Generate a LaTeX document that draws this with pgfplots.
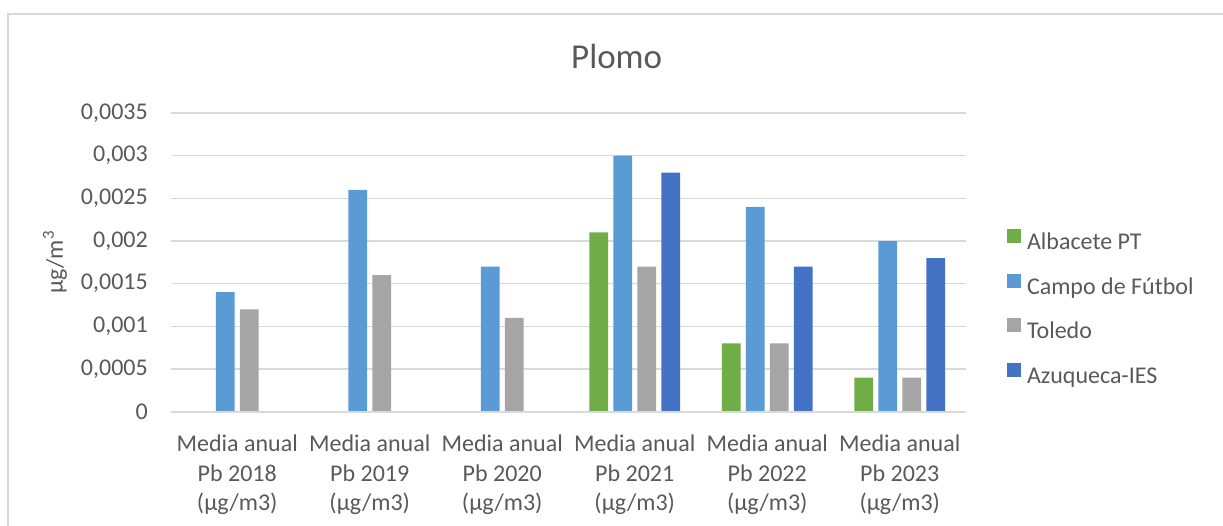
\documentclass[border=0pt]{standalone}
\usepackage{pgfplots}
\pgfplotsset{compat=1.18}
\usepackage{fontspec}
\setmainfont{Carlito}
\definecolor{cGreen}{HTML}{70AD47}
\definecolor{cLBlue}{HTML}{5B9BD5}
\definecolor{cGray}{HTML}{A5A5A5}
\definecolor{cDBlue}{HTML}{4472C4}
\definecolor{cText}{HTML}{595959}
\definecolor{cGrid}{HTML}{D9D9D9}
\begin{document}
\begin{tikzpicture}
\useasboundingbox (-171pt,-113.3pt) rectangle (1052pt,411.7pt);
\begin{axis}[
  at={(0,0)}, anchor=south west,
  scale only axis,
  width=795pt, height=298.7pt,
  xmin=-0.5, xmax=5.5,
  ymin=0, ymax=0.0035,
  ybar,
  bar width=18.7pt,
  scaled y ticks=false,
  xtick={0,1,2,3,4,5},
  xticklabels={{Media anual\\Pb 2018\\(µg/m3)},{Media anual\\Pb 2019\\(µg/m3)},{Media anual\\Pb 2020\\(µg/m3)},{Media anual\\Pb 2021\\(µg/m3)},{Media anual\\Pb 2022\\(µg/m3)},{Media anual\\Pb 2023\\(µg/m3)}},
  ytick={0,0.0005,0.001,0.0015,0.002,0.0025,0.003,0.0035},
  yticklabels={0,{0,0005},{0,001},{0,0015},{0,002},{0,0025},{0,003},{0,0035}},
  xticklabel style={align=center, anchor=north, inner sep=0pt, yshift=-23pt, font=\fontsize{24}{29.5}\selectfont, text=cText},
  yticklabel style={anchor=east, inner sep=0pt, xshift=-23pt, font=\fontsize{24}{29}\selectfont, text=cText},
  tick style={draw=none},
  major tick length=0pt,
  axis line style={draw=none},
  ymajorgrids,
  grid style={cGrid, line width=1.6pt},
  title={Plomo},
  title style={at={(axis description cs:0.5606,1)}, anchor=base, yshift=39pt, inner sep=0pt, font=\fontsize{35}{40}\selectfont, text=cText},
  ylabel={µg/m\textsuperscript{3}},
  ylabel style={at={(axis description cs:0,0.5)}, anchor=center, yshift=116pt, inner sep=0pt, font=\fontsize{24}{29}\selectfont, text=cText},
  legend image code/.code={\fill[#1] (0pt,0.7pt) rectangle (14pt,14.7pt);},
  legend style={draw=none, fill=none, at={(axis description cs:1.0516,0.612)}, anchor=north west, inner sep=0pt, outer sep=0pt,
     row sep=19pt, column sep=6pt,
     nodes={inner sep=0pt, text height=17pt, text depth=5pt, font=\fontsize{24}{29}\selectfont, text=cText}},
  legend cell align=left,
]
\addplot[fill=cGreen, draw=none, bar shift=-36pt] coordinates {(3,0.0021) (4,0.0008) (5,0.0004)};
\addplot[fill=cLBlue, draw=none, bar shift=-12pt] coordinates {(0,0.0014) (1,0.0026) (2,0.0017) (3,0.003) (4,0.0024) (5,0.002)};
\addplot[fill=cGray, draw=none, bar shift=12pt] coordinates {(0,0.0012) (1,0.0016) (2,0.0011) (3,0.0017) (4,0.0008) (5,0.0004)};
\addplot[fill=cDBlue, draw=none, bar shift=36pt] coordinates {(3,0.0028) (4,0.0017) (5,0.0018)};
\draw[cGrid, line width=1.6pt] (axis cs:-0.5,0) -- (axis cs:5.5,0);
\legend{Albacete PT, Campo de Fútbol, Toledo, Azuqueca-IES}
\end{axis}
\begin{scope}
\clip (-171pt,-113.3pt) rectangle (1052pt,411.7pt);
\draw[cGrid, line width=2pt] (-163pt,397.7pt) rectangle (1070pt,-130pt);
\end{scope}
\end{tikzpicture}
\end{document}
